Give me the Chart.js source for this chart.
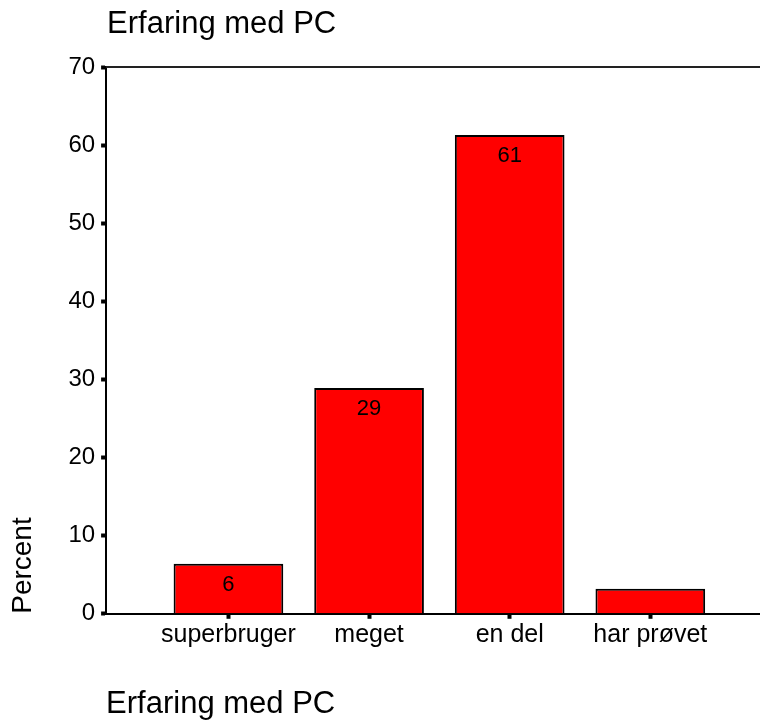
<!DOCTYPE html>
<html>
<head>
<meta charset="utf-8">
<script src="https://cdn.jsdelivr.net/npm/chart.js@4"></script>
<style>
body { margin: 0; background: #fff; }
#wrap { width: 760px; height: 725px; }
</style>
</head>
<body>
<div id="wrap"><canvas id="pc-chart"></canvas></div>
<script>
var categories = ['superbruger', 'meget', 'en del', 'har prøvet'];
var percentValues = [6.4, 28.9, 61.3, 3.2];
var barLabels = ['6', '29', '61', ''];
var yTicks = [0, 10, 20, 30, 40, 50, 60, 70];
var chartTitle = 'Erfaring med PC';
var xTitle = 'Erfaring med PC';
var yTitle = 'Percent';

var fontFamily = "'Liberation Sans', Arial, sans-serif";
Chart.defaults.font.family = fontFamily;
Chart.defaults.color = '#000';

var points = [];
for (var i = 0; i < categories.length; i++) {
	points.push({ x: i, y: percentValues[i] });
}

// title, top frame line and the numbers inside the bars
var extras = {
	id: 'extras',
	afterDatasetsDraw: function(chart) {
		var ctx = chart.ctx;
		var area = chart.chartArea;
		ctx.save();
		ctx.strokeStyle = '#222';
		ctx.lineWidth = 2;
		ctx.beginPath();
		ctx.moveTo(area.left, area.top);
		ctx.lineTo(area.right, area.top);
		ctx.stroke();

		ctx.fillStyle = '#000';
		ctx.font = '22px ' + fontFamily;
		ctx.textAlign = 'center';
		ctx.textBaseline = 'middle';
		chart.getDatasetMeta(0).data.forEach(function(bar, i) {
			if (barLabels[i]) ctx.fillText(barLabels[i], bar.x, bar.y + 21);
		});

		ctx.font = '31px ' + fontFamily;
		ctx.textAlign = 'left';
		ctx.textBaseline = 'alphabetic';
		ctx.fillText(chartTitle, area.left + 1, 33);
		ctx.restore();
	}
};

var ctx = document.getElementById('pc-chart').getContext('2d');
var pcChart = new Chart(ctx, {
	type: 'bar',
	data: {
		datasets: [{
			data: points,
			backgroundColor: '#ff0000',
			borderColor: '#000',
			borderWidth: 2,
			categoryPercentage: 1,
			barPercentage: 0.78
		}]
	},
	plugins: [extras],
	options: {
		responsive: true,
		maintainAspectRatio: false,
		animation: false,
		layout: { padding: { top: 67, left: 6, right: 0, bottom: 0 } },
		plugins: {
			legend: { display: false },
			tooltip: { enabled: false }
		},
		scales: {
			x: {
				type: 'linear',
				min: -0.87,
				max: 3.78,
				offset: false,
				afterBuildTicks: function(scale) {
					scale.ticks = categories.map(function(c, i) { return { value: i }; });
				},
				ticks: {
					callback: function(value) { return categories[value]; },
					font: { size: 25 },
					padding: 1,
					maxRotation: 0,
					autoSkip: false
				},
				grid: {
					offset: false,
					drawOnChartArea: false,
					tickLength: 5,
					tickWidth: 4,
					tickColor: '#000'
				},
				border: { color: '#000', width: 2 },
				title: {
					display: true,
					text: xTitle,
					align: 'start',
					font: { size: 31 },
					padding: { top: 35, bottom: 2 }
				}
			},
			y: {
				min: 0,
				max: 70,
				afterBuildTicks: function(scale) {
					scale.ticks = yTicks.map(function(v) { return { value: v }; });
				},
				ticks: {
					font: { size: 24 },
					padding: 6
				},
				grid: {
					drawOnChartArea: false,
					tickLength: 5,
					tickWidth: 4,
					tickColor: '#000'
				},
				border: { color: '#000', width: 2 },
				title: {
					display: true,
					text: yTitle,
					align: 'start',
					font: { size: 28 },
					padding: { top: 0, bottom: 22.8 }
				}
			}
		}
	}
});
</script>
</body>
</html>
